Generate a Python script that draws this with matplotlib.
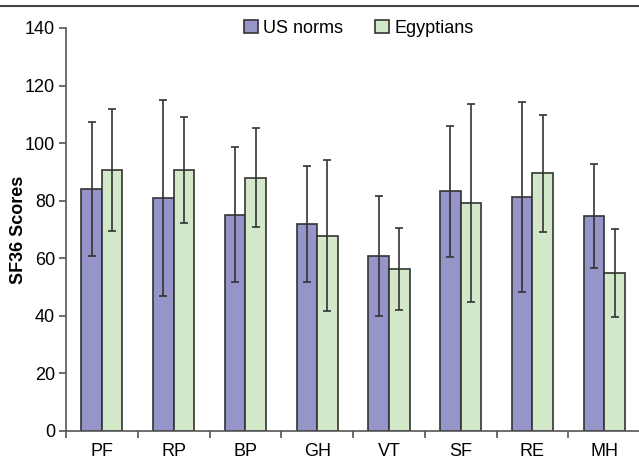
import matplotlib
matplotlib.use("Agg")
import matplotlib.pyplot as plt
import numpy as np
from matplotlib.lines import Line2D

plt.rcParams['font.family'] = ['Liberation Sans', 'DejaVu Sans']

# SF-36 domain means and standard deviations
domains = ["PF", "RP", "BP", "GH", "VT", "SF", "RE", "MH"]
us_means = [84.1, 80.9, 75.2, 71.9, 60.8, 83.3, 81.4, 74.8]
us_sd = [23.2, 34.0, 23.6, 20.3, 20.9, 22.7, 33.0, 18.1]
eg_means = [90.7, 90.8, 88.0, 67.9, 56.3, 79.2, 89.6, 54.9]
eg_sd = [21.3, 18.4, 17.1, 26.2, 14.3, 34.3, 20.3, 15.3]

us_color = "#9595c9"
eg_color = "#d3e8c8"
edge = "#333333"

fig = plt.figure(figsize=(6.39, 4.62), dpi=100)
ax = fig.add_axes([0.1033, 0.0671, 0.8985, 0.8723])

x = np.arange(len(domains))
width = 0.287
err_kw = dict(ecolor=edge, elinewidth=1.2, capsize=3, capthick=1.2)

ax.bar(x - width / 2, us_means, width, yerr=us_sd, color=us_color,
       edgecolor=edge, linewidth=1.2, label="US norms", error_kw=err_kw)
ax.bar(x + width / 2, eg_means, width, yerr=eg_sd, color=eg_color,
       edgecolor=edge, linewidth=1.2, label="Egyptians", error_kw=err_kw)

ax.set_xlim(-0.5, len(domains) - 0.5)
ax.set_ylim(0, 140)
ax.set_yticks(np.arange(0, 141, 20))
ax.set_xticks(x)
ax.set_xticklabels(domains)
ax.set_xticks(np.arange(-0.5, len(domains)), minor=True)
ax.tick_params(axis="x", which="major", length=0, pad=9, labelsize=13)
ax.tick_params(axis="x", which="minor", length=5, width=1.2, color="#555555",
               direction="out")
ax.tick_params(axis="y", length=5, width=1.2, color="#555555", labelsize=13,
               direction="out", pad=3)

for side in ("top", "right"):
    ax.spines[side].set_visible(False)
for side in ("left", "bottom"):
    ax.spines[side].set_color("#555555")
    ax.spines[side].set_linewidth(1.2)

ax.set_ylabel("SF36 Scores", fontsize=13, fontweight="bold")
ax.yaxis.set_label_coords(-0.068, 0.5)

ax.legend(loc="upper center", bbox_to_anchor=(0.51, 1.06), ncol=2,
          frameon=False, fontsize=13, handlelength=0.75, handleheight=0.75,
          handletextpad=0.3, columnspacing=1.8)

# rule across the top of the figure
fig.add_artist(Line2D([0, 1], [0.988, 0.988], color="#444444", linewidth=1.5,
                      transform=fig.transFigure))

fig.savefig("out.png", dpi=100)
